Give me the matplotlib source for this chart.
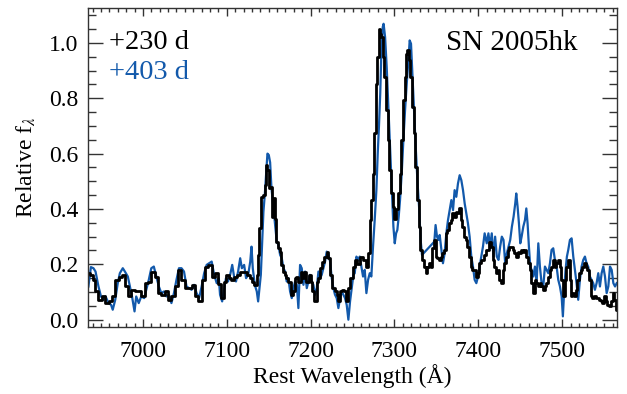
import matplotlib
matplotlib.use("Agg")
import matplotlib.pyplot as plt
from matplotlib.ticker import MultipleLocator

plt.rcParams["font.family"] = ["Liberation Serif", "DejaVu Serif"]
plt.rcParams["mathtext.fontset"] = "stix"

# +230 d spectrum (rest wavelength in Angstrom, relative flux)
wave_230 = [6935, 6939, 6941, 6945, 6949, 6953, 6957, 6961, 6965, 6969, 6973, 6977,
            6980, 6984, 6988, 6992, 6996, 7000, 7004, 7008, 7012, 7016, 7020, 7024,
            7028, 7032, 7036, 7040, 7044, 7048, 7052, 7056, 7060, 7064, 7068, 7072,
            7076, 7080, 7084, 7088, 7092, 7095, 7098, 7101, 7104, 7107, 7110, 7114,
            7118, 7122, 7126, 7129, 7132, 7134, 7137, 7138, 7140, 7142, 7144, 7146,
            7148, 7149, 7151, 7153, 7154, 7156, 7158, 7160, 7162, 7164, 7166, 7168,
            7170, 7172, 7175, 7177, 7180, 7182, 7184, 7187, 7189, 7191, 7194, 7196,
            7199, 7201, 7203, 7206, 7208, 7210, 7213, 7215, 7218, 7220, 7222, 7225,
            7227, 7230, 7232, 7234, 7237, 7239, 7241, 7244, 7246, 7249, 7251, 7254,
            7257, 7261, 7265, 7268, 7270, 7272, 7273, 7275, 7277, 7279, 7280, 7282,
            7283, 7285, 7287, 7289, 7291, 7293, 7295, 7297, 7299, 7301, 7303, 7305,
            7307, 7309, 7311, 7313, 7314, 7316, 7318, 7320, 7322, 7324, 7326, 7328,
            7330, 7332, 7334, 7336, 7338, 7340, 7342, 7344, 7346, 7348, 7350, 7352,
            7354, 7356, 7358, 7360, 7362, 7364, 7366, 7368, 7370, 7372, 7374, 7376,
            7378, 7380, 7382, 7384, 7386, 7388, 7390, 7392, 7394, 7396, 7398, 7400,
            7402, 7404, 7406, 7408, 7411, 7414, 7416, 7418, 7420, 7422, 7424, 7426,
            7428, 7430, 7432, 7434, 7436, 7438, 7440, 7442, 7444, 7446, 7448, 7450,
            7452, 7454, 7456, 7458, 7460, 7462, 7464, 7466, 7468, 7470, 7472, 7474,
            7476, 7478, 7480, 7482, 7484, 7486, 7488, 7490, 7492, 7494, 7496, 7498,
            7500, 7502, 7504, 7506, 7508, 7510, 7511, 7513, 7515, 7517, 7519, 7521,
            7523, 7525, 7527, 7529, 7531, 7533, 7535, 7537, 7539, 7541, 7543, 7545,
            7547, 7549, 7551, 7553, 7555, 7557, 7559, 7561, 7563, 7565]
flux_230 = [0.170, 0.160, 0.144, 0.102, 0.072, 0.084, 0.060, 0.066, 0.084, 0.144, 0.156, 0.162,
            0.120, 0.084, 0.108, 0.102, 0.102, 0.084, 0.132, 0.138, 0.174, 0.156, 0.096, 0.090,
            0.102, 0.072, 0.084, 0.120, 0.180, 0.144, 0.114, 0.114, 0.126, 0.084, 0.066, 0.144,
            0.192, 0.198, 0.156, 0.168, 0.128, 0.078, 0.138, 0.162, 0.150, 0.144, 0.156, 0.162,
            0.172, 0.172, 0.162, 0.150, 0.138, 0.126, 0.162, 0.234, 0.330, 0.444, 0.450, 0.486,
            0.559, 0.540, 0.475, 0.480, 0.372, 0.438, 0.365, 0.282, 0.258, 0.246, 0.198, 0.174,
            0.162, 0.150, 0.138, 0.090, 0.102, 0.150, 0.156, 0.138, 0.174, 0.150, 0.174, 0.138,
            0.162, 0.138, 0.102, 0.066, 0.138, 0.150, 0.186, 0.210, 0.228, 0.246, 0.222, 0.162,
            0.114, 0.102, 0.090, 0.066, 0.102, 0.108, 0.102, 0.066, 0.114, 0.150, 0.190, 0.216,
            0.200, 0.228, 0.215, 0.192, 0.240, 0.360, 0.432, 0.528, 0.673, 0.853, 0.949, 1.051,
            1.033, 1.021, 0.949, 0.877, 0.757, 0.649, 0.540, 0.456, 0.408, 0.365, 0.400, 0.456,
            0.528, 0.649, 0.793, 0.877, 0.961, 0.973, 0.937, 0.877, 0.769, 0.673, 0.553, 0.432,
            0.336, 0.252, 0.216, 0.192, 0.170, 0.192, 0.204, 0.192, 0.260, 0.288, 0.228, 0.222,
            0.216, 0.228, 0.240, 0.252, 0.312, 0.324, 0.348, 0.360, 0.384, 0.372, 0.390, 0.384,
            0.405, 0.360, 0.336, 0.300, 0.288, 0.264, 0.228, 0.192, 0.180, 0.180, 0.156, 0.168,
            0.204, 0.216, 0.216, 0.235, 0.252, 0.282, 0.264, 0.216, 0.192, 0.168, 0.180, 0.144,
            0.132, 0.180, 0.204, 0.228, 0.252, 0.264, 0.264, 0.252, 0.240, 0.228, 0.246, 0.240,
            0.252, 0.246, 0.252, 0.228, 0.204, 0.180, 0.132, 0.096, 0.144, 0.132, 0.120, 0.132,
            0.120, 0.108, 0.120, 0.132, 0.156, 0.180, 0.192, 0.216, 0.192, 0.204, 0.216, 0.192,
            0.144, 0.084, 0.144, 0.192, 0.216, 0.144, 0.084, 0.096, 0.084, 0.108, 0.144, 0.168,
            0.180, 0.192, 0.204, 0.192, 0.180, 0.144, 0.084, 0.078, 0.084, 0.078, 0.078, 0.072,
            0.066, 0.060, 0.084, 0.066, 0.054, 0.048, 0.066, 0.096, 0.072, 0.036]

# +403 d spectrum
wave_403 = [6935, 6938, 6941, 6943.5, 6947, 6950, 6953, 6955.5, 6959, 6962, 6964, 6967,
            6970, 6972.5, 6976, 6978.5, 6982, 6984.5, 6987, 6990, 6992, 6995, 6998, 7001.5,
            7004, 7007, 7010, 7013, 7016, 7019, 7022, 7025, 7028, 7031, 7034, 7037,
            7040, 7043, 7046, 7049, 7052, 7055, 7058, 7061, 7064, 7067, 7070, 7073,
            7076, 7079, 7082, 7085, 7088, 7090.5, 7092, 7094.5, 7097, 7099, 7101.5, 7104,
            7106.5, 7109, 7111, 7113.5, 7116, 7118, 7120.7, 7123, 7125.5, 7128, 7129.5, 7131,
            7133.4, 7135.8, 7137.4, 7139, 7140.6, 7142.1, 7143.7, 7145.3, 7146.9, 7148.5, 7150.1, 7151.7,
            7153.3, 7154.9, 7156.4, 7158, 7159.6, 7161.6, 7163.6, 7165.6, 7167.6, 7169.6, 7171.5, 7173.5,
            7175.5, 7177.5, 7179.5, 7181.5, 7183.5, 7185.4, 7187.4, 7189.4, 7191.4, 7193.4, 7195.4, 7197.4,
            7199.3, 7201.3, 7203.3, 7205.3, 7207.3, 7209.3, 7211.3, 7213.2, 7215.2, 7217.2, 7219.2, 7221.2,
            7223.2, 7225.2, 7227.1, 7229.1, 7231.1, 7233.1, 7235.1, 7237.1, 7239, 7241, 7243, 7245,
            7247, 7249, 7251, 7252.6, 7254.6, 7256.6, 7258.5, 7260.5, 7262.5, 7264.5, 7266.5, 7268.5,
            7270.5, 7272.4, 7274.4, 7276.4, 7278.4, 7280, 7281.5, 7283, 7284.4, 7286, 7287, 7288.8,
            7290.7, 7292.7, 7294.7, 7296.7, 7298.7, 7300.3, 7301.9, 7303.4, 7305, 7306.6, 7308.6, 7310.6,
            7312.6, 7314.6, 7316.6, 7318.1, 7319.7, 7321.3, 7323.3, 7325.3, 7327.3, 7329.3, 7331.2, 7332.8,
            7347.5, 7349, 7350.7, 7352.3, 7353.9, 7355.9, 7357.8, 7359.8, 7361.8, 7363.8, 7365.8, 7367.8,
            7369.8, 7371.7, 7373.7, 7375.7, 7377.7, 7379.7, 7381.7, 7383.7, 7385.7, 7387.6, 7389.6, 7391.6,
            7393.6, 7395.6, 7397.6, 7399.6, 7401.5, 7403.5, 7405.5, 7407.5, 7410, 7412, 7414, 7416,
            7418, 7420, 7422, 7424, 7426, 7428, 7430, 7432, 7434, 7436, 7438, 7440,
            7442, 7444, 7445.2, 7446.8, 7448.4, 7450, 7451.6, 7453.6, 7455.6, 7457.2, 7458.7, 7460.3,
            7461.9, 7463.5, 7465.5, 7467.5, 7469.5, 7471.5, 7473.4, 7475.4, 7477.4, 7479.4, 7481.4, 7483.4,
            7485.4, 7487.3, 7489.3, 7491.3, 7493.3, 7495.3, 7497.3, 7499.3, 7500.8, 7502.4, 7504, 7505.6,
            7507.2, 7509.2, 7511.2, 7513.2, 7515.1, 7517.1, 7519.1, 7521.1, 7523.1, 7525.1, 7527.1, 7529,
            7531, 7533, 7535, 7537, 7539, 7541, 7543, 7545, 7547, 7549, 7551, 7553,
            7555, 7557, 7559, 7561, 7563, 7565]
flux_403 = [0.120, 0.190, 0.186, 0.174, 0.120, 0.084, 0.072, 0.084, 0.060, 0.054, 0.036, 0.072,
            0.132, 0.168, 0.186, 0.174, 0.156, 0.120, 0.084, 0.030, 0.084, 0.060, 0.084, 0.078,
            0.108, 0.144, 0.186, 0.192, 0.156, 0.120, 0.096, 0.102, 0.084, 0.090, 0.060, 0.096,
            0.144, 0.186, 0.186, 0.174, 0.120, 0.114, 0.108, 0.126, 0.096, 0.078, 0.120, 0.168,
            0.198, 0.204, 0.210, 0.162, 0.132, 0.150, 0.090, 0.066, 0.114, 0.150, 0.138, 0.162,
            0.198, 0.150, 0.138, 0.174, 0.222, 0.186, 0.198, 0.150, 0.162, 0.210, 0.264, 0.186,
            0.126, 0.102, 0.066, 0.114, 0.162, 0.270, 0.390, 0.450, 0.523, 0.600, 0.595, 0.568,
            0.475, 0.426, 0.378, 0.330, 0.282, 0.270, 0.234, 0.222, 0.186, 0.174, 0.138, 0.150,
            0.102, 0.078, 0.114, 0.138, 0.126, 0.042, 0.198, 0.186, 0.126, 0.174, 0.114, 0.138,
            0.162, 0.138, 0.126, 0.090, 0.114, 0.174, 0.150, 0.162, 0.186, 0.210, 0.246, 0.234,
            0.210, 0.150, 0.114, 0.090, 0.078, 0.042, 0.078, 0.102, 0.090, 0.078, 0.054, 0.000,
            0.066, 0.114, 0.162, 0.168, 0.228, 0.216, 0.228, 0.192, 0.156, 0.180, 0.096, 0.144,
            0.168, 0.156, 0.264, 0.360, 0.468, 0.600, 0.700, 0.817, 0.973, 1.057, 1.069, 1.021,
            0.913, 0.769, 0.625, 0.480, 0.336, 0.276, 0.312, 0.324, 0.372, 0.432, 0.528, 0.649,
            0.757, 0.853, 0.937, 1.009, 0.997, 0.889, 0.757, 0.625, 0.504, 0.408, 0.288, 0.234,
            0.282, 0.342, 0.300, 0.288, 0.306, 0.252, 0.204, 0.240, 0.312, 0.360, 0.396, 0.432,
            0.396, 0.468, 0.444, 0.492, 0.522, 0.504, 0.468, 0.420, 0.384, 0.348, 0.300, 0.228,
            0.192, 0.144, 0.132, 0.156, 0.192, 0.228, 0.264, 0.312, 0.276, 0.312, 0.264, 0.312,
            0.228, 0.300, 0.228, 0.216, 0.264, 0.300, 0.288, 0.204, 0.240, 0.264, 0.288, 0.336,
            0.372, 0.420, 0.456, 0.408, 0.348, 0.276, 0.300, 0.336, 0.360, 0.402, 0.348, 0.264,
            0.192, 0.180, 0.156, 0.192, 0.132, 0.276, 0.192, 0.132, 0.120, 0.192, 0.180, 0.168,
            0.204, 0.252, 0.258, 0.216, 0.192, 0.144, 0.120, 0.084, 0.012, 0.108, 0.180, 0.228,
            0.252, 0.288, 0.294, 0.228, 0.180, 0.132, 0.072, 0.144, 0.192, 0.216, 0.228, 0.204,
            0.192, 0.156, 0.144, 0.132, 0.108, 0.132, 0.168, 0.120, 0.168, 0.192, 0.156, 0.096,
            0.120, 0.192, 0.180, 0.132, 0.120, 0.132]

epochs = ["+230 d", "+403 d"]
object_name = "SN 2005hk"
blue = "#1259ab"

fig = plt.figure(figsize=(6.27, 3.94), dpi=100)
ax = fig.add_axes([0.141, 0.171, 0.8426, 0.808])

ax.plot(wave_403, flux_403, color=blue, lw=1.6)
ax.plot(wave_230, flux_230, color="black", lw=2.0, drawstyle="steps-mid")

ax.set_xlim(6935, 7565)
ax.set_ylim(-0.025, 1.125)

ax.xaxis.set_major_locator(MultipleLocator(100))
ax.xaxis.set_minor_locator(MultipleLocator(10))
ax.yaxis.set_major_locator(MultipleLocator(0.2))
ax.yaxis.set_minor_locator(MultipleLocator(0.05))
ax.yaxis.set_major_formatter(plt.FuncFormatter(lambda v, p: f"{v:.1f}"))

ax.tick_params(which="both", direction="in", top=True, right=True,
               labelsize=17, width=1.0, color="#333333")
ax.tick_params(axis="x", which="major", length=6, pad=10)
ax.tick_params(axis="x", which="minor", length=3)
ax.tick_params(axis="y", which="major", length=11, pad=7)
ax.tick_params(axis="y", which="minor", length=5.5)
for s in ax.spines.values():
    s.set_linewidth(1.0)
    s.set_color("#333333")

ax.set_xlabel("Rest Wavelength (Å)", fontsize=17, labelpad=2)
ax.set_ylabel(r"Relative f$_{\lambda}$", fontsize=17, labelpad=8)

ax.text(0.039, 0.891, epochs[0], transform=ax.transAxes, fontsize=20.5,
        color="black", ha="left", va="center")
ax.text(0.039, 0.797, epochs[1], transform=ax.transAxes, fontsize=20.5,
        color=blue, ha="left", va="center")
ax.text(0.925, 0.891, object_name, transform=ax.transAxes, fontsize=21,
        color="black", ha="right", va="center")

fig.savefig("out.png", dpi=100)
